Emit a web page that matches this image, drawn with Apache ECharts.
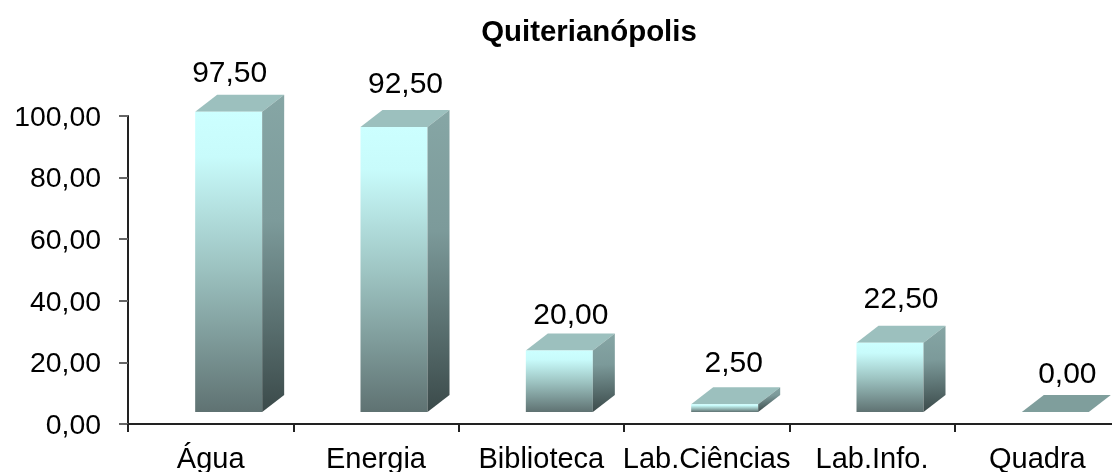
<!DOCTYPE html>
<html>
<head>
<meta charset="utf-8">
<title>Quiterianópolis</title>
<script src="https://cdn.jsdelivr.net/npm/echarts@6/dist/echarts.min.js"></script>
<style>
	html, body { margin: 0; padding: 0; background: #fff; }
	#main { width: 1112px; height: 472px; }
</style>
</head>
<body>
<div id="main"></div>
<script>
var titleText = 'Quiterianópolis';
var categories = ['Água', 'Energia', 'Biblioteca', 'Lab.Ciências', 'Lab.Info.', 'Quadra'];
var values = [97.5, 92.5, 20, 2.5, 22.5, 0];
var yTicks = ['0,00', '20,00', '40,00', '60,00', '80,00', '100,00'];

// the value labels were moved by hand in the original, so each has its own shift
var labelShift = [[1, -21], [11.5, -25], [11.5, -18], [9, -24], [11, -26], [12, -20]];

var font = 'Liberation Sans, Arial, sans-serif';
var barW = 67, depthX = 22, depthY = 17, shiftX = 18, lift = 12;

function comma(v) {
	return v.toFixed(2).replace('.', ',');
}

function grad(x2, y2, stops) {
	return new echarts.graphic.LinearGradient(0, 0, x2, y2, stops);
}

function renderBar(params, api) {
	var i = api.value(0);
	var v = api.value(1);
	var top = api.coord([i, v]);
	var base = api.coord([i, 0]);
	var x0 = top[0] + shiftX - barW / 2;
	var x1 = x0 + barW;
	var y0 = top[1] - lift;
	var y1 = base[1] - lift;
	var children = [];

	children.push({
		type: 'polygon',
		shape: { points: [[x0, y0], [x0 + depthX, y0 - depthY], [x1 + depthX, y0 - depthY], [x1, y0]] },
		style: { fill: v === 0 ? '#7f9e9c' : '#9cc0be' }
	});
	if (v > 0) {
		children.push({
			type: 'rect',
			shape: { x: x0, y: y0, width: barW, height: y1 - y0 },
			style: {
				fill: grad(0, 1, [
					{ offset: 0, color: '#ccffff' },
					{ offset: 0.15, color: '#c8fbfb' },
					{ offset: 0.5, color: '#9fc6c4' },
					{ offset: 1, color: '#5f7272' }
				])
			}
		});
		children.push({
			type: 'polygon',
			shape: { points: [[x1, y0], [x1 + depthX, y0 - depthY], [x1 + depthX, y1 - depthY], [x1, y1]] },
			style: {
				fill: grad(0.15, 1, [
					{ offset: 0, color: '#86a6a5' },
					{ offset: 0.4, color: '#7c9a9a' },
					{ offset: 1, color: '#3b4a4a' }
				])
			}
		});
	}
	children.push({
		type: 'text',
		style: {
			x: top[0] + shiftX + labelShift[i][0],
			y: y0 - depthY + labelShift[i][1],
			text: comma(v),
			align: 'center',
			verticalAlign: 'middle',
			fill: '#000',
			font: '30px ' + font
		}
	});
	return { type: 'group', children: children };
}

var myChart = echarts.init(document.getElementById('main'), null, { renderer: 'canvas' });
var barData = [];
for (var k = 0; k < values.length; k++) {
	barData.push([k, values[k]]);
}

var option = {
	animation: false,
	backgroundColor: '#fff',
	title: {
		text: titleText,
		left: 584,
		top: 13,
		textAlign: 'center',
		textStyle: { fontFamily: font, fontSize: 29.4, fontWeight: 'bold', color: '#000' }
	},
	grid: { left: 128, width: 992, top: 116, height: 308, outerBoundsMode: 'none' },
	xAxis: {
		type: 'category',
		data: categories,
		offset: 1.5,
		axisLine: { lineStyle: { color: '#222', width: 2 } },
		axisTick: { show: true, length: 8, lineStyle: { color: '#222', width: 2 } },
		axisLabel: { fontFamily: font, fontSize: 29, color: '#000', margin: 20, interval: 0, hideOverlap: false }
	},
	yAxis: {
		type: 'value',
		min: 0,
		max: 100,
		interval: 20,
		splitLine: { show: false },
		axisLine: { show: true, lineStyle: { color: '#222', width: 2 } },
		axisTick: { show: true, length: 9, lineStyle: { color: '#666', width: 2 } },
		axisLabel: {
			margin: 27,
			formatter: function(v) {
				return '{t|' + yTicks[v / 20] + '}';
			},
			rich: {
				t: { fontFamily: font, fontSize: 28.4, color: '#000', padding: [4, 0, 0, 0] }
			}
		}
	},
	series: [{
		type: 'custom',
		renderItem: renderBar,
		data: barData,
		encode: { x: 0, y: 1 }
	}]
};
myChart.setOption(option, true);
</script>
</body>
</html>
